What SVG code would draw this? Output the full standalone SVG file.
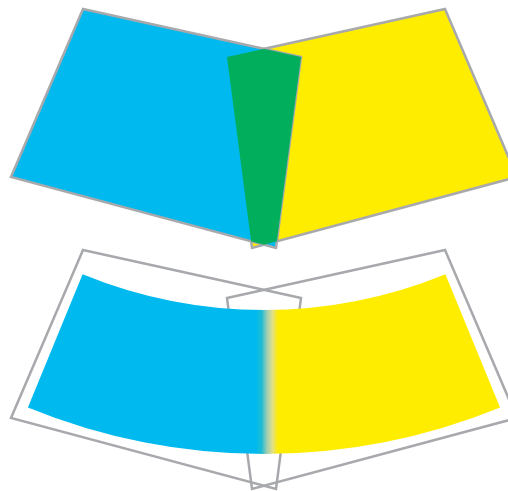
<svg xmlns="http://www.w3.org/2000/svg" width="508" height="491" viewBox="0 0 508 491">
  <style>
    .edge { stroke: #A7A9AC; stroke-width: 2.5; stroke-linejoin: miter; }
    .outline { fill: none; }
  </style>
  <defs>
    <clipPath id="blueClip">
      <polygon points="83,9 301,57 276,248 11,177"/>
    </clipPath>
    <linearGradient id="bandGrad" gradientUnits="userSpaceOnUse" x1="256" y1="0" x2="278" y2="0">
      <stop offset="0" stop-color="#00B9EE"/>
      <stop offset="0.25" stop-color="#1EBCD2"/>
      <stop offset="0.5" stop-color="#9ECDB4"/>
      <stop offset="0.75" stop-color="#E2DF86"/>
      <stop offset="1" stop-color="#FFED00"/>
    </linearGradient>
  </defs>
  <g id="top-quads">
    <g id="yellow-quad">
      <polygon class="edge" fill="#FFED00" points="227,57 445,9 517,177 252,248"/>
    </g>
    <g id="blue-quad">
      <polygon class="edge" fill="#00B9EE" points="83,9 301,57 276,248 11,177"/>
    </g>
    <g id="overlap">
      <polygon fill="#00AE5B" clip-path="url(#blueClip)" points="227,57 445,9 517,177 252,248"/>
    </g>
  </g>
  <g id="connectors"></g>
  <g id="bottom-warp">
    <g id="outline-left">
      <polygon class="edge outline" points="83,250 301,298 276,489 11,418"/>
    </g>
    <g id="outline-right">
      <polygon class="edge outline" points="227,298 445,250 517,418 252,489"/>
    </g>
    <g id="warped-band">
      <path fill="url(#bandGrad)" d="M 82.6 274.2 A 478 478 0 0 0 445.4 274.2 L 500.1 407.5 A 622 622 0 0 1 27.9 407.5 Z"/>
    </g>
  </g>
</svg>
